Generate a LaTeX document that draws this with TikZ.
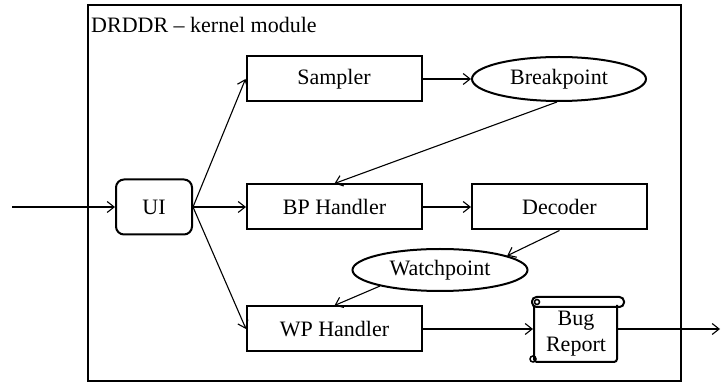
\documentclass[tikz,border=0pt]{standalone}
\usepackage{fontspec}
\setmainfont{Liberation Serif}
\usetikzlibrary{arrows.meta,shapes.geometric}
\begin{document}
\begin{tikzpicture}[x=1pt,y=-1pt,
  every node/.style={font=\fontsize{22}{25}\selectfont},
  box/.style={draw,line width=2pt,minimum width=175pt,minimum height=45pt,inner sep=0pt},
  oval/.style={draw,ellipse,line width=2pt,minimum width=174pt,minimum height=44pt,inner sep=0pt},
  conn/.style={line width=1.1pt,-{Straight Barb[length=7pt,width=11pt,line width=1.1pt]}}]
\useasboundingbox (0,0) rectangle (724,387);
\draw[line width=2.6pt] (88,5) rectangle (681,381);
\node[anchor=west,inner sep=0pt] (title) at (91,25) {DRDDR -- kernel module};
\node[draw,line width=2pt,rounded corners=8pt,minimum width=76pt,minimum height=55pt,inner sep=0pt] (ui) at (154,207) {UI};
\node[box] (sampler) at (334,79) {Sampler};
\node[oval] (bp) at (559,79) {Breakpoint};
\node[box] (bph) at (334.5,207) {BP Handler};
\node[box] (dec) at (559.5,207) {Decoder};
\node[oval,minimum width=175pt,minimum height=42pt] (wp) at (440,270) {Watchpoint};
\node[box] (wph) at (334.5,329) {WP Handler};
\node[align=center,minimum width=83pt,minimum height=56pt,inner sep=0pt,font=\fontsize{22}{26}\selectfont] (bug) at (576,334) {Bug\\Report};
% scroll decoration
\draw[line width=2pt,rounded corners=3pt] (534,305) -- (534,362) -- (617,362) -- (617,305);
\draw[line width=2pt,rounded corners=4.5pt] (532,297) rectangle (624,307);
\draw[line width=1.5pt] (537,302) circle (2.5pt);
\draw[line width=1.5pt] (533,359) circle (3pt);
\coordinate (in) at (12,207);
\coordinate (out) at (720,329);
\coordinate (bugin) at (533,329);
\coordinate (bugout) at (617,329);
\draw[conn] (in) -- (ui.west);
\draw[conn] (ui.east) -- (sampler.west);
\draw[conn] (ui.east) -- (bph.west);
\draw[conn] (ui.east) -- (wph.west);
\draw[conn] (sampler.east) -- (bp.west);
\draw[conn] (bp.-95) -- (bph.north);
\draw[conn] (bph.east) -- (dec.west);
\draw[conn] (dec.south) -- (wp.12);
\draw[conn] (wp.-165) -- (wph.north);
\draw[conn] (wph.east) -- (bugin);
\draw[conn] (bugout) -- (out);
\end{tikzpicture}
\end{document}
